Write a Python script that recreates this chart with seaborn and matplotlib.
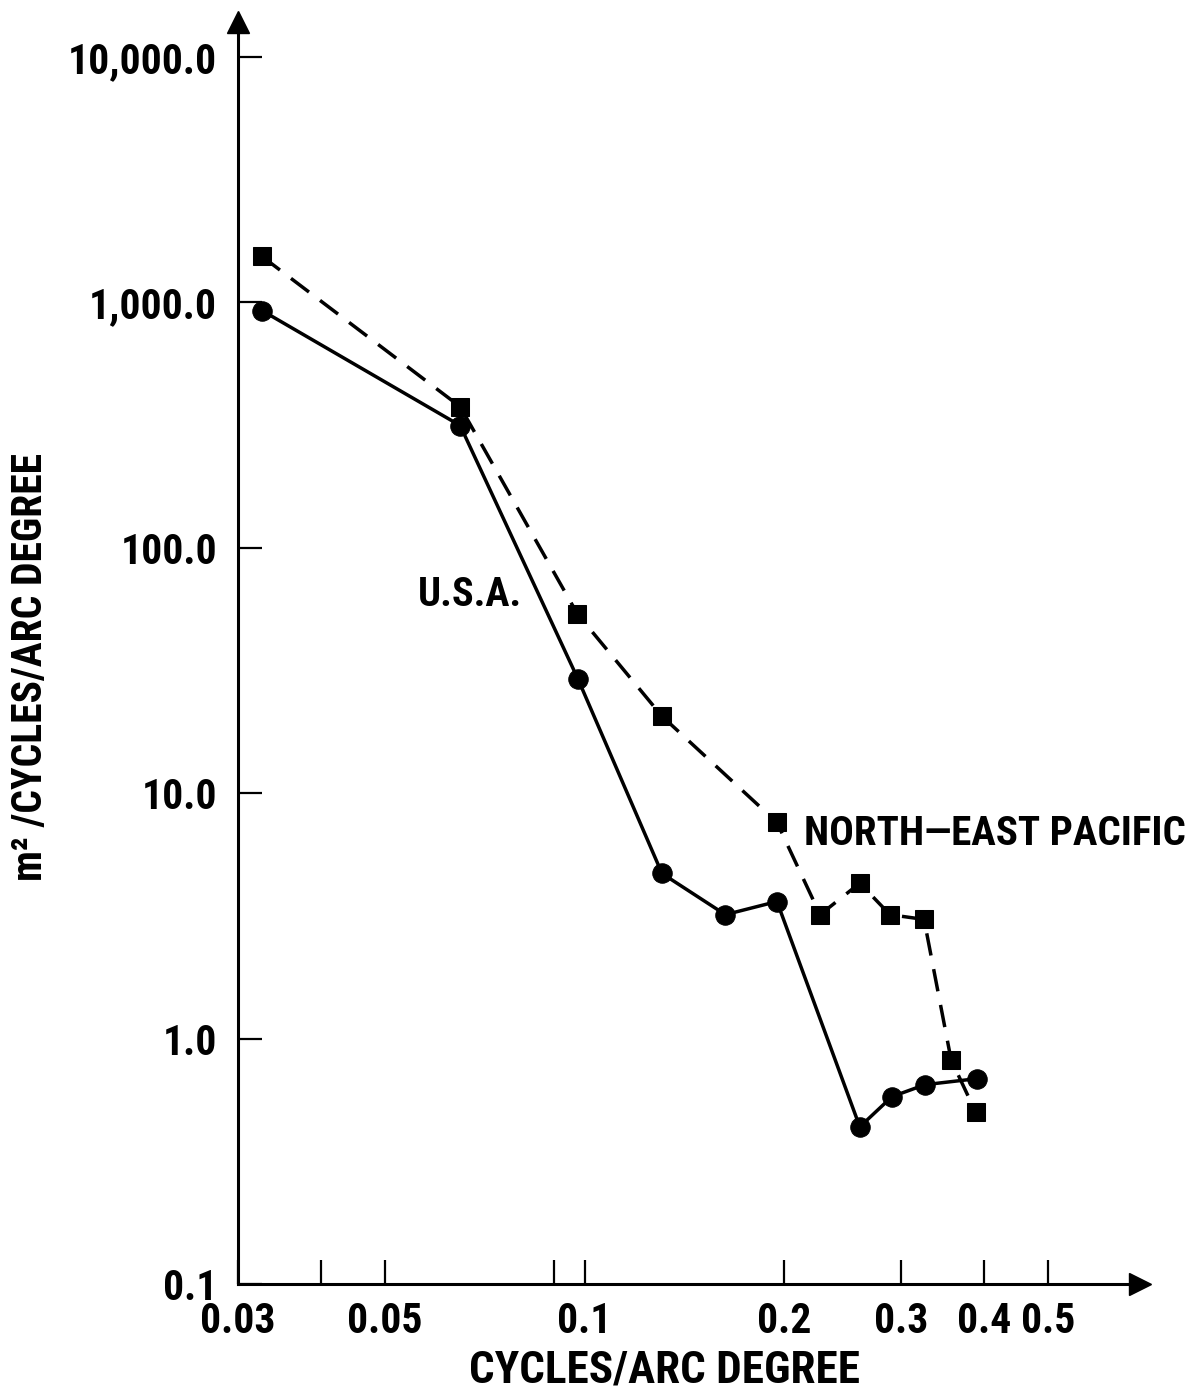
import matplotlib
matplotlib.use("Agg")
import matplotlib.pyplot as plt
from matplotlib.ticker import FixedLocator, FixedFormatter, NullLocator
import seaborn as sns
import pandas as pd

# ---- data ----
usa_x = [0.0326, 0.0649, 0.0977, 0.1308, 0.163, 0.195, 0.260, 0.2907, 0.326, 0.391]
usa_y = [927, 315, 29.2, 4.71, 3.2, 3.62, 0.437, 0.58, 0.649, 0.687]

nep_x = [0.0326, 0.0649, 0.0975, 0.1308, 0.195, 0.2265, 0.260, 0.2887, 0.325, 0.357, 0.389]
nep_y = [1541, 376, 53.8, 20.6, 7.6, 3.2, 4.3, 3.2, 3.06, 0.82, 0.50]

x_ticks = [0.03, 0.04, 0.05, 0.09, 0.1, 0.2, 0.3, 0.4, 0.5]
x_tick_labels = ["0.03", "", "0.05", "", "0.1", "0.2", "0.3", "0.4", "0.5"]
y_ticks = [0.1, 1, 10, 100, 1000, 10000]
y_tick_labels = ["0.1", "1.0", "10.0", "100.0", "1,000.0", "10,000.0"]

x_label = "CYCLES/ARC DEGREE"
y_label = "m\u00b2 /CYCLES/ARC DEGREE"
usa_label = "U.S.A."
nep_label = "NORTH\u2014EAST PACIFIC"

usa_df = pd.DataFrame({"x": usa_x, "y": usa_y})
nep_df = pd.DataFrame({"x": nep_x, "y": nep_y})

sns.set_style("ticks")
FONT = ["Roboto Condensed", "Liberation Sans Narrow", "Roboto", "DejaVu Sans"]
plt.rcParams["font.family"] = FONT
plt.rcParams["font.weight"] = "bold"
plt.rcParams["text.color"] = "black"
plt.rcParams["axes.labelcolor"] = "black"

fig = plt.figure(figsize=(11.88, 13.95), dpi=100)
ax = fig.add_axes([238 / 1188, 1 - 1284 / 1395, (1140 - 238) / 1188, (1284 - 22) / 1395])

sns.lineplot(data=usa_df, x="x", y="y", ax=ax, sort=False, color="black",
             linewidth=2.5, marker="o", markersize=14,
             markeredgecolor="black", markerfacecolor="black")
sns.lineplot(data=nep_df, x="x", y="y", ax=ax, sort=False, color="black",
             linewidth=2.5, linestyle=(0, (6.5, 4)), marker="s", markersize=12.5,
             markeredgecolor="black", markerfacecolor="black")

ax.set_xscale("log")
ax.set_yscale("log")
ax.set_xlim(0.03, 10 ** (-1.5229 + (1140 - 238) / 663))
ax.set_ylim(0.1, 10 ** (4 + (57 - 22) / 245))

ax.xaxis.set_major_locator(FixedLocator(x_ticks))
ax.xaxis.set_major_formatter(FixedFormatter(x_tick_labels))
ax.xaxis.set_minor_locator(NullLocator())
ax.yaxis.set_major_locator(FixedLocator(y_ticks))
ax.yaxis.set_major_formatter(FixedFormatter(y_tick_labels))
ax.yaxis.set_minor_locator(NullLocator())

ax.tick_params(axis="both", which="major", direction="in", length=17, width=1.6,
               color="black", labelsize=30, labelcolor="black")
ax.tick_params(axis="x", pad=12)
ax.tick_params(axis="y", pad=15)
for lab in ax.get_xticklabels() + ax.get_yticklabels():
    lab.set_fontweight("bold")

sns.despine(ax=ax)
for side in ("left", "bottom"):
    ax.spines[side].set_linewidth(2.2)
    ax.spines[side].set_color("black")

# axis arrows
ax.plot(1, 0, ">", color="black", markersize=16, transform=ax.transAxes, clip_on=False)
ax.plot(0, 1, "^", color="black", markersize=16, transform=ax.transAxes, clip_on=False)

ax.set_xlabel(x_label, fontsize=32.5, fontweight="bold", color="black")
ax.set_ylabel(y_label, fontsize=30, fontweight="bold", color="black")
ax.xaxis.set_label_coords(0.473, -0.052)
ax.yaxis.set_label_coords(-0.207, 0.489)

ax.text(0.0672, 64, usa_label, fontsize=29, fontweight="bold", ha="center", va="center",
        color="black")
ax.text(0.214, 6.8, nep_label, fontsize=29.5, fontweight="bold", ha="left", va="center",
        color="black")

ax.set_facecolor("white")
fig.patch.set_facecolor("white")
fig.savefig("out.png", dpi=100, facecolor="white")
